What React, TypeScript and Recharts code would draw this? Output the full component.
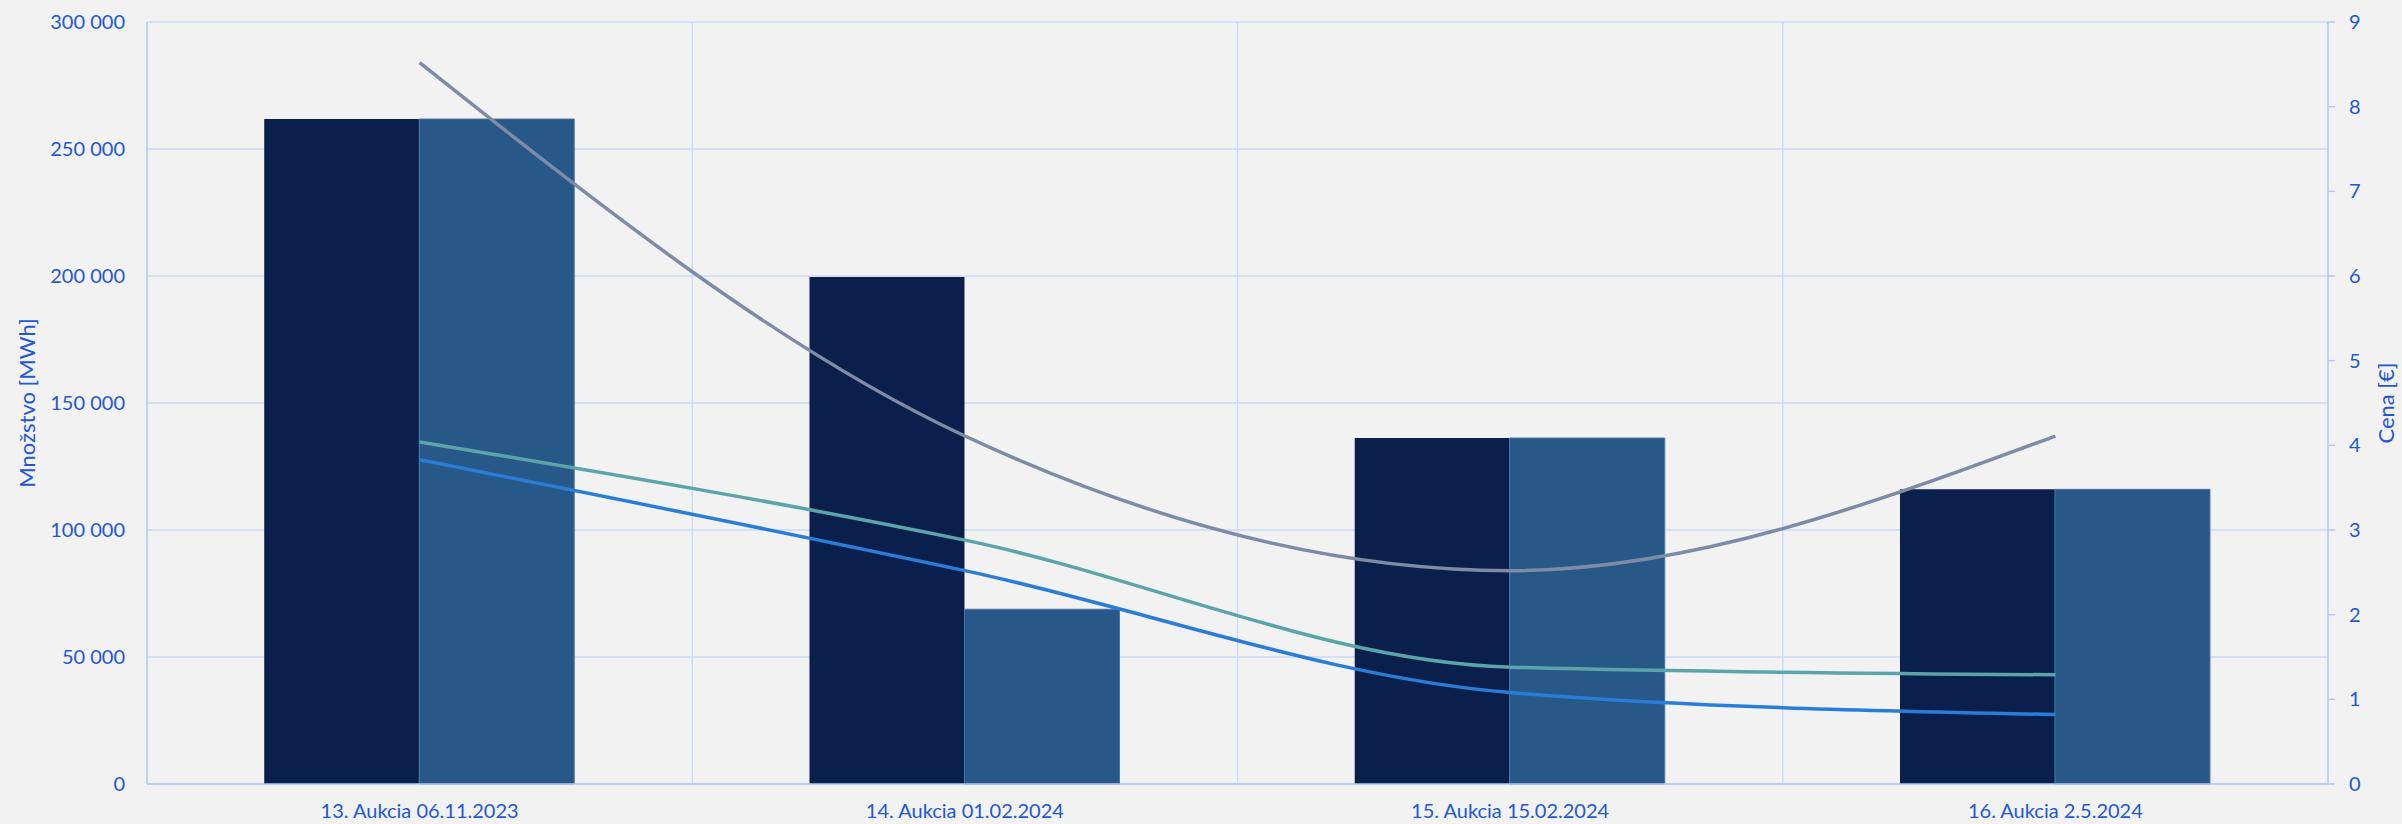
import React from "react";
import {
  ComposedChart,
  Bar,
  Line,
  XAxis,
  YAxis,
  CartesianGrid,
  Label,
} from "recharts";

const categories = [
  "13. Aukcia 06.11.2023",
  "14. Aukcia 01.02.2024",
  "15. Aukcia 15.02.2024",
  "16. Aukcia 2.5.2024",
];
// quantities [MWh]
const offered = [261800, 199600, 136200, 116000];
const allocated = [261800, 68800, 136200, 116000];
// prices [€]
const priceMax = [8.52, 4.11, 2.52, 4.11];
const priceAvg = [4.04, 2.88, 1.38, 1.29];
const priceMin = [3.83, 2.52, 1.08, 0.82];

const qtyTicks = [0, 50000, 100000, 150000, 200000, 250000, 300000];
const priceTicks = [0, 1, 2, 3, 4, 5, 6, 7, 8, 9];

const data = categories.map((name, i) => ({
  name,
  offered: offered[i],
  allocated: allocated[i],
  priceMax: priceMax[i],
  priceAvg: priceAvg[i],
  priceMin: priceMin[i],
}));

const FONT = "Lato, 'Open Sans', sans-serif";
const TEXT = "#1F58D2";
const GRID = "#C8DAF6";
const AXIS = "#B1C9F1";

const fmtQty = (v: number) =>
  String(v).replace(/\B(?=(\d{3})+(?!\d))/g, " ");

const tickStyle = { fontSize: 20, fill: TEXT, fontFamily: FONT };

const AxisTitle = (props: any) => {
  const { viewBox, value, cx } = props;
  const y = viewBox.y + viewBox.height / 2;
  return (
    <text
      x={cx}
      y={y}
      transform={`rotate(-90, ${cx}, ${y})`}
      textAnchor="middle"
      dominantBaseline="central"
      fontSize={22}
      fill={TEXT}
      fontFamily={FONT}
    >
      {value}
    </text>
  );
};

const App = () => {
  return (
    <div
      style={{
        position: "absolute",
        left: 0,
        top: 0,
        width: 2402,
        height: 824,
        background: "#F2F2F2",
      }}
    >
      <ComposedChart
        width={2402}
        height={824}
        data={data}
        margin={{ top: 22, right: 0, left: 0, bottom: 0 }}
        barCategoryGap="21.5%"
        barGap={0}
      >
        <CartesianGrid
          yAxisId="qty"
          stroke={GRID}
          strokeWidth={1.3}
          verticalCoordinatesGenerator={({ offset }: any) =>
            categories
              .slice(1)
              .map((_, i) => offset.left + (offset.width * (i + 1)) / categories.length)
          }
        />
        <XAxis
          dataKey="name"
          height={40}
          axisLine={{ stroke: AXIS, strokeWidth: 1.5 }}
          tickLine={false}
          tickSize={0}
          tickMargin={20}
          tick={tickStyle}
          interval={0}
        />
        <YAxis
          yAxisId="qty"
          width={147}
          domain={[0, 300000]}
          ticks={qtyTicks}
          tickFormatter={fmtQty}
          axisLine={{ stroke: AXIS, strokeWidth: 1.5 }}
          tickLine={false}
          tickSize={0}
          tickMargin={22}
          tick={tickStyle}
        >
          <Label
            value="Množstvo [MWh]"
            content={(p: any) => <AxisTitle {...p} value="Množstvo [MWh]" cx={26} />}
          />
        </YAxis>
        <YAxis
          yAxisId="price"
          orientation="right"
          width={74}
          domain={[0, 9]}
          ticks={priceTicks}
          axisLine={{ stroke: AXIS, strokeWidth: 1.5 }}
          tickLine={{ stroke: AXIS, strokeWidth: 1.5 }}
          tickSize={7}
          tickMargin={14}
          tick={tickStyle}
        >
          <Label
            value="Cena [€]"
            content={(p: any) => <AxisTitle {...p} value="Cena [€]" cx={2385} />}
          />
        </YAxis>
        <Bar
          yAxisId="qty"
          dataKey="offered"
          fill="#0B1F4D"
          isAnimationActive={false}
        />
        <Bar
          yAxisId="qty"
          dataKey="allocated"
          fill="#285887"
          stroke="#4C72A0"
          strokeWidth={1}
          isAnimationActive={false}
        />
        <Line
          yAxisId="price"
          dataKey="priceMax"
          type="monotone"
          stroke="#7D8BA7"
          strokeWidth={3.5}
          dot={false}
          isAnimationActive={false}
        />
        <Line
          yAxisId="price"
          dataKey="priceAvg"
          type="monotone"
          stroke="#5AA5AA"
          strokeWidth={3.5}
          dot={false}
          isAnimationActive={false}
        />
        <Line
          yAxisId="price"
          dataKey="priceMin"
          type="monotone"
          stroke="#2A7DD7"
          strokeWidth={3.5}
          dot={false}
          isAnimationActive={false}
        />
      </ComposedChart>
    </div>
  );
};

export default App;
